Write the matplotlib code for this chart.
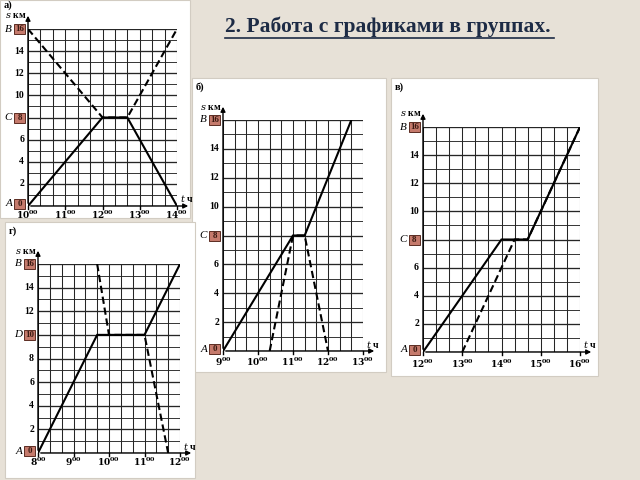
import matplotlib.pyplot as plt
from matplotlib.patches import Rectangle
from matplotlib.lines import Line2D

plt.rcParams['mathtext.fontset'] = 'dejavuserif'
plt.rcParams['font.family'] = ['Liberation Serif', 'DejaVu Serif']

W, H = 640, 480

title = "2. Работа с графиками в группах."

# panel а)
a_hours = [10, 11, 12, 13, 14]
a_solid_t = ["10:00", "12:00", "12:40", "14:00"]
a_solid_s = [0, 8, 8, 0]
a_dash_t = ["10:00", "12:00", "12:40", "14:00"]
a_dash_s = [16, 8, 8, 16]
a_points = [("A", 0), ("C", 8), ("B", 16)]

# panel б)
b_hours = [9, 10, 11, 12, 13]
b_solid_t = ["9:00", "11:00", "11:20", "12:40"]
b_solid_s = [0, 8, 8, 16]
b_dash_t = ["10:20", "11:00", "11:20", "12:00"]
b_dash_s = [0, 8, 8, 0]
b_points = [("A", 0), ("C", 8), ("B", 16)]

# panel в)
v_hours = [12, 13, 14, 15, 16]
v_solid_t = ["12:00", "14:00", "14:40", "16:00"]
v_solid_s = [0, 8, 8, 16]
v_dash_t = ["13:00", "14:20", "14:40", "16:00"]
v_dash_s = [0, 8, 8, 16]
v_points = [("A", 0), ("C", 8), ("B", 16)]

# panel г)
g_hours = [8, 9, 10, 11, 12]
g_solid_t = ["8:00", "9:40", "11:00", "12:00"]
g_solid_s = [0, 10, 10, 16]
g_dash_t = ["9:40", "10:00", "11:00", "11:40"]
g_dash_s = [16, 10, 10, 0]
g_points = [("A", 0), ("D", 10), ("B", 16)]

s_max = 16


def hm(s):
    h, m = s.split(":")
    return int(h) + int(m) / 60


fig = plt.figure(figsize=(6.4, 4.8), dpi=100)
fig.patch.set_facecolor('#e7e1d7')


def draw_panel(letter, box, origin, right, top, hours, solid_t, solid_s,
               dash_t, dash_s, points, xlab_off=10, letter_off=9):
    bx0, by0, bx1, by1 = box
    fig.patches.append(Rectangle((bx0 / W, 1 - by1 / H), (bx1 - bx0) / W,
                                 (by1 - by0) / H, transform=fig.transFigure,
                                 facecolor='white', edgecolor='#d2ccc2',
                                 lw=0.8, zorder=-1))
    ox, oy = origin
    ax = fig.add_axes([ox / W, 1 - oy / H, (right - ox) / W, (oy - top) / H])
    t0, t1 = hours[0], hours[-1]
    ax.set_xlim(t0, t1)
    ax.set_ylim(0, s_max)
    ax.axis('off')
    kx = (t1 - t0) / (right - ox)
    ky = s_max / (oy - top)

    # grid
    for i in range(3 * (t1 - t0) + 1):
        x = t0 + i / 3
        ax.plot([x, x], [0, s_max], color='#262626', lw=0.75, zorder=1)
    for j in range(s_max + 1):
        ax.plot([t0, t1], [j, j], color='#262626',
                lw=0.95 if j % 2 == 0 else 0.65, zorder=1)

    # axes with arrows
    ax.annotate('', xy=(t1 + 14 * kx, 0), xytext=(t0, 0),
                arrowprops=dict(arrowstyle='-|>', lw=1.0, color='black',
                                mutation_scale=7), annotation_clip=False)
    ax.annotate('', xy=(t0, s_max + 16 * ky), xytext=(t0, 0),
                arrowprops=dict(arrowstyle='-|>', lw=1.0, color='black',
                                mutation_scale=7), annotation_clip=False)
    for h in hours:
        ax.plot([h, h], [0, -3 * ky], color='black', lw=1.0, clip_on=False)
        ax.text(h, -xlab_off * ky, r'$\mathbf{%d}^{\mathbf{00}}$' % h,
                ha='center', va='center', fontsize=6.5, clip_on=False)

    ax.text(t0 - 2 * kx, s_max + 13 * ky, r'$s$ км', ha='right', va='center',
            fontsize=7, fontweight='bold')
    ax.text(t1 + 3 * kx, 7 * ky, r'$t$ ч', ha='left', va='center',
            fontsize=7, fontweight='bold')
    # panel letter: letter_off pixels below the top of the white box
    ax.text(t0 - (ox - bx0 - 4) * kx, s_max + (top - by0 - letter_off) * ky,
            letter, ha='left', va='center', fontsize=7.5, fontweight='bold')

    # y labels
    marked = [v for _, v in points]
    for v in range(2, s_max, 2):
        if v not in marked:
            ax.text(t0 - 4 * kx, v, str(v), ha='right', va='center',
                    fontsize=7, fontweight='bold')
    for name, v in points:
        bw, bh = 11, 10
        yc = v + (2 * ky if v == 0 else 0)
        ax.add_patch(Rectangle((t0 - (3 + bw) * kx, yc - bh / 2 * ky),
                               bw * kx, bh * ky, facecolor='#c57a6c',
                               edgecolor='#5b2c22', lw=0.7, clip_on=False,
                               zorder=5))
        ax.text(t0 - (3 + bw / 2) * kx, yc, str(v), ha='center', va='center',
                fontsize=6.5, fontweight='bold', color='#3a1a12', zorder=6)
        ax.text(t0 - (5 + bw) * kx, yc, name, ha='right', va='center',
                fontsize=8, style='italic', zorder=6)

    ax.plot([hm(t) for t in solid_t], solid_s, color='black', lw=1.5,
            zorder=3, solid_joinstyle='miter')
    ax.plot([hm(t) for t in dash_t], dash_s, color='black', lw=1.5,
            ls=(0, (3.5, 1.8)), zorder=4)


draw_panel('а)', (0, 0, 190, 218), (28, 206), 177, 29, a_hours,
           a_solid_t, a_solid_s, a_dash_t, a_dash_s, a_points,
           xlab_off=8.5, letter_off=5)
draw_panel('б)', (192, 78, 386, 372), (223, 351), 363, 120, b_hours,
           b_solid_t, b_solid_s, b_dash_t, b_dash_s, b_points, xlab_off=11)
draw_panel('в)', (391, 78, 598, 376), (423, 352), 580, 127, v_hours,
           v_solid_t, v_solid_s, v_dash_t, v_dash_s, v_points, xlab_off=12)
draw_panel('г)', (5, 222, 195, 478), (38, 453), 180, 264, g_hours,
           g_solid_t, g_solid_s, g_dash_t, g_dash_s, g_points, xlab_off=9)

# title with underline
tt = fig.text(225 / W, 1 - 27 / H, title, fontsize=15.5, fontweight='bold',
              color='#1d2b45', va='center', ha='left')
fig.canvas.draw()
bb = tt.get_window_extent().transformed(fig.transFigure.inverted())
fig.add_artist(Line2D([bb.x0, bb.x1 + 0.006], [1 - 37.5 / H, 1 - 37.5 / H],
                      transform=fig.transFigure, color='#1d2b45', lw=1.2))

fig.savefig('out.png', dpi=100, facecolor=fig.get_facecolor())
